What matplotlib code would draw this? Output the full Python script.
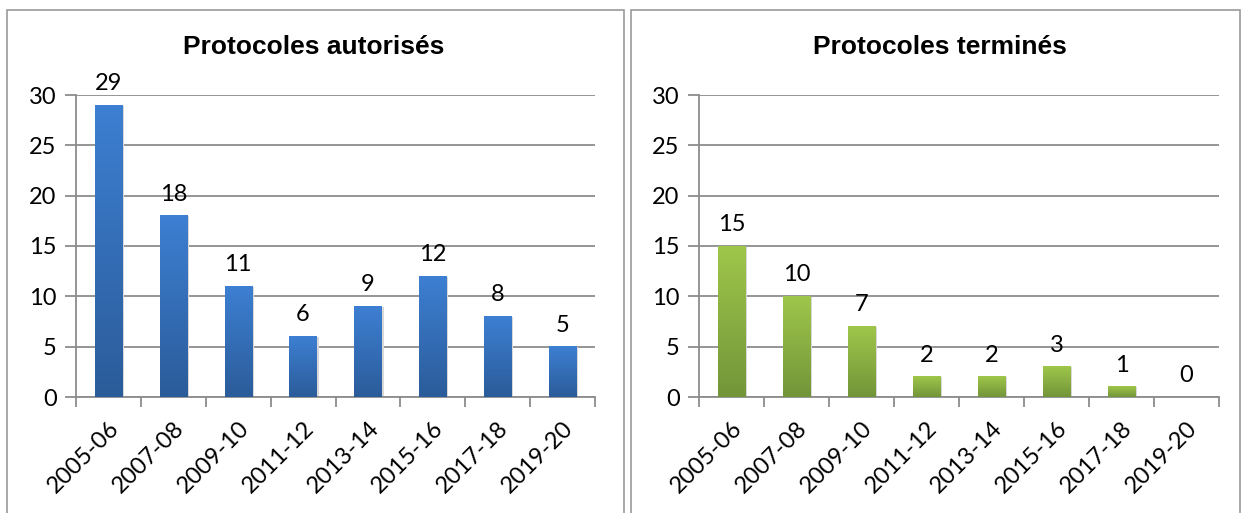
import matplotlib.pyplot as plt
import numpy as np
from matplotlib.patches import Rectangle
from matplotlib.ticker import FixedLocator
from matplotlib.colors import LinearSegmentedColormap

periods = ['2005-06', '2007-08', '2009-10', '2011-12', '2013-14', '2015-16', '2017-18', '2019-20']
autorises = [29, 18, 11, 6, 9, 12, 8, 5]
termines = [15, 10, 7, 2, 2, 3, 1, 0]

titles = ['Protocoles autorisés', 'Protocoles terminés']
colors = [('#3d7fd2', '#2b5c9a'), ('#9fc64a', '#73953a')]

plt.rcParams['font.family'] = ['Lato', 'DejaVu Sans']
grey = '#8c8c8c'

fig = plt.figure(figsize=(12.44, 5.13), dpi=100)

# panel frames
for x0, x1 in [(7, 624), (631, 1240)]:
    fig.add_artist(Rectangle((x0 / 1244, -0.05), (x1 - x0) / 1244, 1 - 10 / 513 + 0.05,
                             transform=fig.transFigure, fill=False, edgecolor='#9a9a9a', lw=1.2))

positions = [[76 / 1244, 1 - 397 / 513, 519 / 1244, 302 / 513],
             [699 / 1244, 1 - 397 / 513, 520 / 1244, 302 / 513]]
title_x = [314 / 1244, 940 / 1244]

for k, (vals, title) in enumerate(zip([autorises, termines], titles)):
    ax = fig.add_axes(positions[k])
    x = np.arange(len(periods))
    bars = ax.bar(x, vals, width=0.42, color='none', zorder=3)
    top, bot = colors[k]
    grad = np.linspace(0, 1, 100).reshape(-1, 1)
    cmap = LinearSegmentedColormap.from_list('g', [bot, top])
    for b in bars:
        h = b.get_height()
        if h <= 0:
            continue
        bx = b.get_x()
        w = b.get_width()
        ax.imshow(grad, cmap=cmap, origin='lower', aspect='auto',
                  extent=(bx, bx + w, 0, h), zorder=3)
        # soft shadow
        ax.add_patch(Rectangle((bx + w, 0.05), 0.03, h - 0.1, color='#d8d8d8', zorder=2, lw=0))
    for xi, v in zip(x, vals):
        ax.annotate(str(v), (xi, v), xytext=(0, 8), textcoords='offset points',
                    ha='center', va='bottom', fontsize=17)
    ax.set_xlim(-0.5, len(periods) - 0.5)
    ax.set_ylim(0, 30)
    ax.set_yticks(range(0, 31, 5))
    ax.yaxis.grid(True, color=grey, lw=1.3, zorder=0)
    ax.set_axisbelow(True)
    ax.xaxis.set_major_locator(FixedLocator(np.arange(-0.5, len(periods), 1)))
    ax.set_xticklabels([])
    ax.xaxis.set_minor_locator(FixedLocator(x))
    ax.set_xticklabels(periods, minor=True, rotation=45, ha='right', rotation_mode='anchor',
                       fontsize=17)
    ax.tick_params(axis='x', which='minor', length=0, pad=15)
    ax.tick_params(axis='x', which='major', length=7, width=1.3, color=grey)
    ax.tick_params(axis='y', length=8, width=1.3, color=grey, labelsize=17, pad=6)
    for s in ['top', 'right']:
        ax.spines[s].set_visible(False)
    for s in ['left', 'bottom']:
        ax.spines[s].set_color(grey)
        ax.spines[s].set_linewidth(1.3)
    fig.text(title_x[k], 1 - 47 / 513, title, ha='center', va='center', fontsize=19,
             fontweight='bold', family='Liberation Sans')

fig.savefig('out.png', dpi=100)
